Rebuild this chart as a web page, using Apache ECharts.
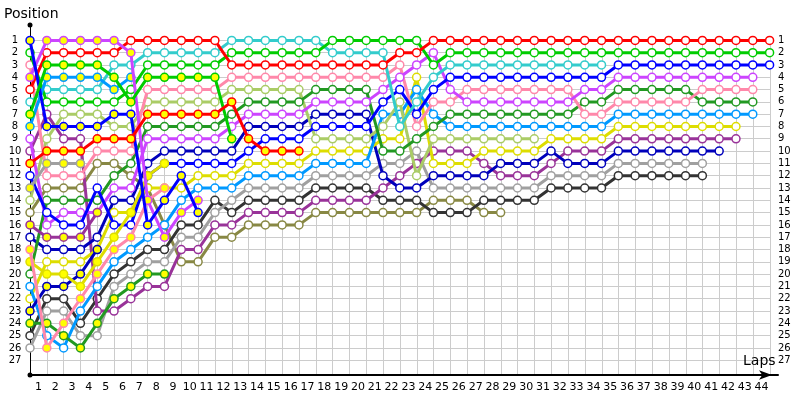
<!DOCTYPE html>
<html><head><meta charset="utf-8">
<script src="https://cdn.jsdelivr.net/npm/echarts@6/dist/echarts.min.js"></script>
<style>html,body{margin:0;padding:0;background:#fff}#c{width:800px;height:400px}</style>
</head><body><div id="c"></div>
<script>
// ---- tick labels ----
const lapLabels = [1,2,3,4,5,6,7,8,9,10,11,12,13,14,15,16,17,18,19,20,21,22,23,24,25,26,27,28,29,30,31,32,33,34,35,36,37,38,39,40,41,42,43,44];
const positionTicks = [1,2,3,4,5,6,7,8,9,10,11,12,13,14,15,16,17,18,19,20,21,22,23,24,25,26,27];

// ---- positions per lap (index 0 = grid) ----
const redA   = [5,2,2,2,2,2,1,1,1,1,1,1,3,3,3,3,3,3,3,3,3,3,2,2,1,1,1,1,1,1,1,1,1,1,1,1,1,1,1,1,1,1,1,1,1];
const greenA = [2,6,6,6,6,6,5,3,3,3,3,3,2,2,2,2,2,2,1,1,1,1,1,1,3,2,2,2,2,2,2,2,2,2,2,2,2,2,2,2,2,2,2,2,2];
const blueA  = [12,15,16,16,13,16,16,12,11,11,11,11,11,10,9,9,9,8,8,8,8,6,5,7,5,4,4,4,4,4,4,4,4,4,4,3,3,3,3,3,3,3,3,3,3];
const magA   = [9,16,15,15,15,13,13,9,9,9,9,9,8,7,7,7,7,6,6,6,6,5,4,3,2,5,6,6,6,6,6,6,6,5,5,4,4,4,4,4,4,4,4,4];
const pinkA  = [3,12,12,12,10,10,10,5,5,5,5,5,4,4,4,4,4,4,4,4,4,4,3,8,6,6,5,5,5,5,5,5,5,7,7,6,6,6,6,6,5,5,5,5];
const dgreenA= [20,14,14,14,14,12,11,8,8,8,8,8,7,6,6,6,6,5,5,5,5,10,10,9,8,7,7,7,7,7,7,7,7,6,6,5,5,5,5,5,6,6,6,6];
const lblueA = [21,25,26,23,21,19,18,17,16,14,13,13,13,12,12,12,12,11,11,11,11,7,7,5,7,8,8,8,8,8,8,8,8,8,8,7,7,7,7,7,7,7,7,7];
const yellowA= [22,19,19,19,18,15,15,13,13,13,12,12,12,11,11,11,11,10,10,10,10,9,9,4,11,11,11,10,10,10,10,9,9,9,9,8,8,8,8,8,8,8,8];
const purpleA= [10,7,9,9,23,23,22,21,21,18,18,16,16,15,15,15,15,14,14,14,14,13,12,11,10,10,10,11,12,12,12,11,10,10,10,9,9,9,9,9,9,9,9];
const dblueA = [17,18,18,18,17,14,14,11,10,10,10,10,10,8,8,8,8,7,7,7,7,12,13,13,12,12,12,12,11,11,11,10,11,11,11,10,10,10,10,10,10,10];
const greyA  = [26,23,23,25,25,21,20,19,19,17,17,15,14,13,13,13,13,12,12,12,12,11,11,10,13,13,13,13,13,13,13,12,12,12,12,11,11,11,11,11,11];
const blackA = [25,22,22,24,22,20,19,18,18,16,16,14,15,14,14,14,14,13,13,13,13,14,14,14,15,15,15,14,14,14,14,13,13,13,13,12,12,12,12,12,12];
const cyanA  = [6,5,5,5,5,3,3,2,2,2,2,2,1,1,1,1,1,1,2,2,2,2,8,6,4,3,3,3,3,3,3,3,3,3,3];
const lgreenA= [14,9,7,7,7,8,8,6,6,6,6,6,5,5,5,5,5,9,9,9,9,8,6,12,9,9,9,9,9,9,9];
const oliveA = [15,13,13,13,11,11,12,13,16,19,19,17,17,16,16,16,16,15,15,15,15,15,15,15,14,14,14,15,15];
const redB   = [11,10,10,10,9,9,9,7,7,7,7,7,6,9,10,10,10];
const greenB = [7,3,3,3,3,4,6,4,4,4,4,4,9];
const blueB  = [1,8,8,8,8,7,7,16,14,12,15];
const magB   = [4,1,1,1,1,1,2,14,17,15,14];
const lblueB = [8,4,4,4,4,5,4];
const pinkB  = [18,26,24,22,20,18,17,14,13];
const yellowB= [19,20,20,21,19,17,15,12,11];
const purpleB= [16,17,17,17,15];
const dblueB = [23,21,21,20,18];
const greyB  = [13,11,11,11];
const dgreenB= [24,24,25,26,24,22,21,20,20];

// ---- styling ----
const WHITE = '#ffffff', YEL = '#ffff00';
const drivers = [
  [oliveA,  '#888844', WHITE],
  [blackA,  '#333333', WHITE],
  [greyA,   '#a0a0a0', WHITE],
  [purpleA, '#993399', WHITE],
  [dblueA,  '#0000bb', WHITE],
  [yellowA, '#dddd00', WHITE],
  [lblueA,  '#0099ff', WHITE],
  [lgreenA, '#aacc66', WHITE],
  [dgreenA, '#229922', WHITE],
  [pinkA,   '#ff88aa', WHITE],
  [magA,    '#cc44ff', WHITE],
  [blueA,   '#0000ff', WHITE],
  [cyanA,   '#33cccc', WHITE],
  [greenA,  '#00cc00', WHITE],
  [redA,    '#ff0000', WHITE],
  [dgreenB, '#229922', YEL],
  [greyB,   '#a0a0a0', YEL],
  [dblueB,  '#0000bb', YEL],
  [purpleB, '#993399', YEL],
  [yellowB, '#dddd00', YEL],
  [pinkB,   '#ff88aa', YEL],
  [lblueB,  '#0099ff', YEL],
  [magB,    '#cc44ff', YEL],
  [blueB,   '#0000ff', YEL],
  [greenB,  '#00cc00', YEL],
  [redB,    '#ff0000', YEL]
];

const series = drivers.map(([arr, col, fill], k) => ({
  type: 'line',
  xAxisIndex: 0, yAxisIndex: 0,
  data: arr.map((p, i) => [i, p]),
  symbol: 'circle', symbolSize: 8, showAllSymbol: true,
  lineStyle: { color: col, width: 3 },
  itemStyle: { color: fill, borderColor: col, borderWidth: 1.5 },
  emphasis: { disabled: true },
  z: 3 + k * 0.01,
  animation: false
}));

const font = 'DejaVu Sans';
const option = {
  animation: false,
  backgroundColor: '#ffffff',
  title: [
    { text: 'Position', left: 4, top: 7, padding: 0, textStyle: { fontFamily: font, fontSize: 14, fontWeight: 'normal', color: '#000' } },
    { text: 'Laps', left: 743, top: 354, padding: 0, textStyle: { fontFamily: font, fontSize: 14, fontWeight: 'normal', color: '#000' } }
  ],
  grid: [
    { left: 30, right: 22, top: 25, bottom: 25, containLabel: false },
    { left: 30, right: 30, top: 36.6, bottom: 25, containLabel: false }
  ],
  xAxis: [
    { type: 'value', gridIndex: 0, min: 0, max: 44.5, position: 'bottom',
      axisLine: { show: true, onZero: false, lineStyle: { color: '#000', width: 2 }, symbol: ['none', 'arrow'], symbolSize: [7, 13], symbolOffset: [0, -6] },
      axisTick: { show: false }, axisLabel: { show: false }, splitLine: { show: false } },
    { type: 'category', gridIndex: 1, data: lapLabels, boundaryGap: true, position: 'bottom',
      axisLine: { show: false, onZero: false }, axisTick: { show: false },
      axisLabel: { show: true, interval: 0, margin: 7, color: '#000', fontFamily: font, fontSize: 11 },
      splitLine: { show: true, interval: 0, lineStyle: { color: '#cccccc', width: 1 } } }
  ],
  yAxis: [
    { type: 'value', gridIndex: 0, inverse: true, min: -0.25, max: 28.2, position: 'left',
      axisLine: { show: true, onZero: false, lineStyle: { color: '#000', width: 1 }, symbol: ['circle', 'circle'], symbolSize: [5, 5] },
      axisTick: { show: false, customValues: positionTicks },
      axisLabel: { show: true, customValues: positionTicks, margin: 15, align: 'center', color: '#000', fontFamily: font, fontSize: 10 },
      splitLine: { show: false } },
    { type: 'value', gridIndex: 0, inverse: true, min: -0.25, max: 28.2, position: 'right',
      axisLine: { show: false, onZero: false }, axisTick: { show: false, customValues: positionTicks },
      axisLabel: { show: true, customValues: positionTicks, margin: 0, align: 'left', color: '#000', fontFamily: font, fontSize: 10 },
      splitLine: { show: false } },
    { type: 'value', gridIndex: 1, inverse: true, min: 0.7, max: 28.2,
      axisLine: { show: false, onZero: false }, axisTick: { show: false, customValues: positionTicks },
      axisLabel: { show: false },
      splitLine: { show: true, lineStyle: { color: '#cccccc', width: 1 } } }
  ],
  series: series
};
const chart = echarts.init(document.getElementById('c'), null, { renderer: 'canvas' });
chart.setOption(option);
</script>
</body></html>
